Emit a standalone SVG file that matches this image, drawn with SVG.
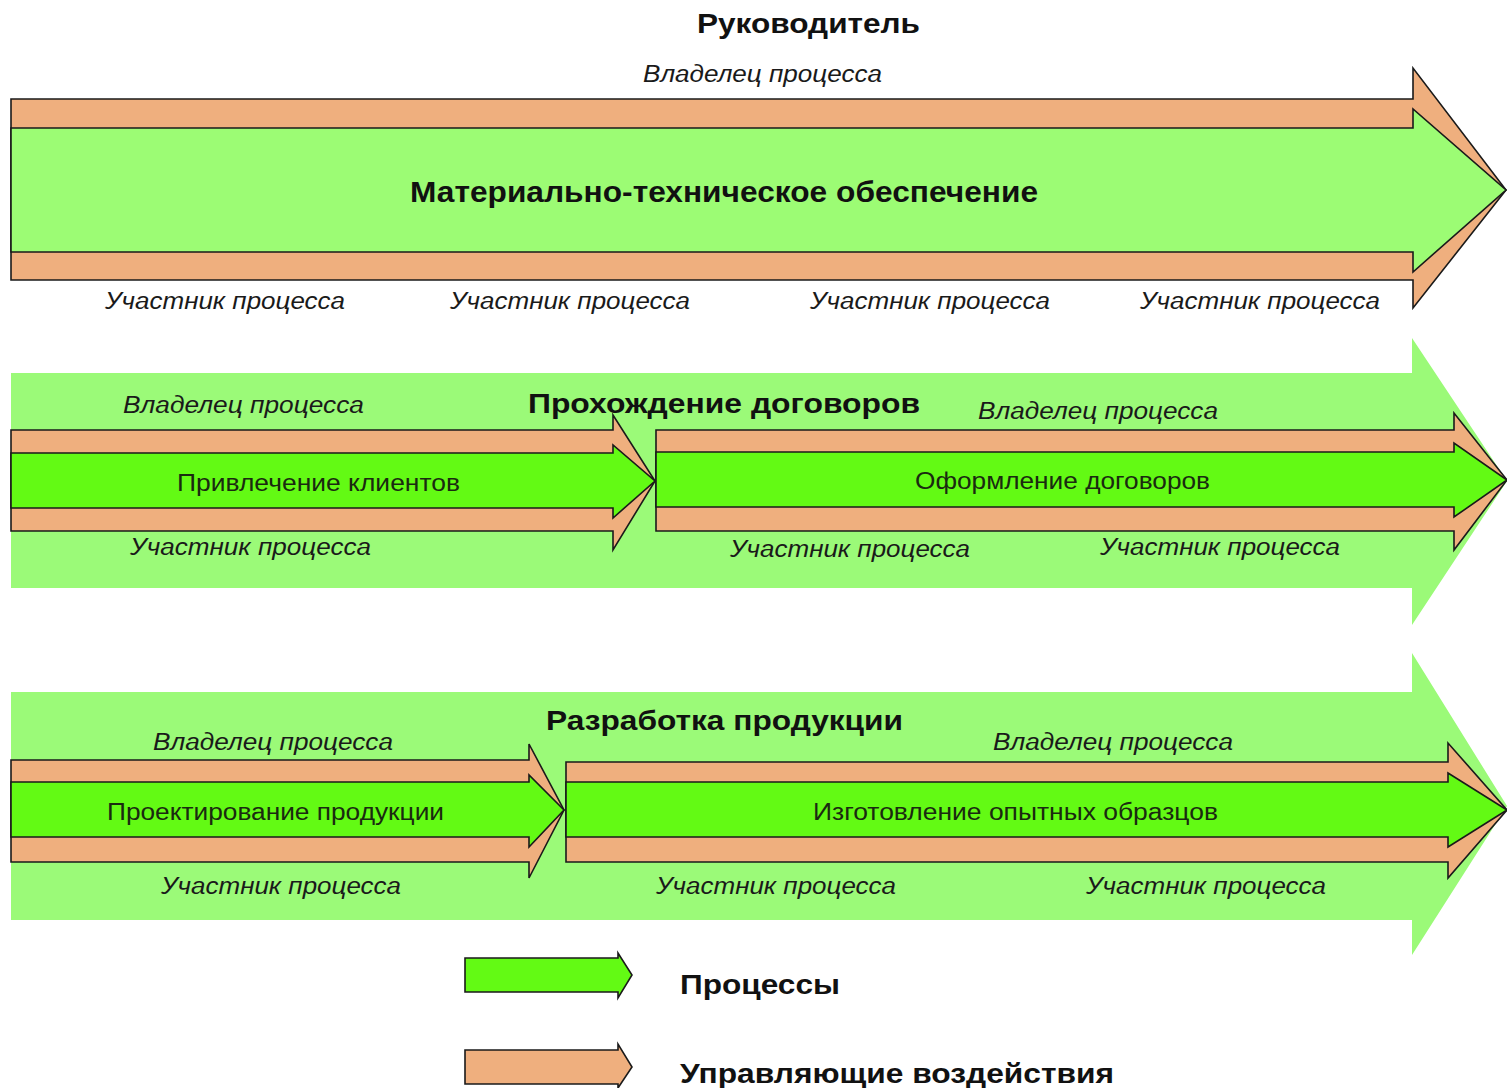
<svg xmlns="http://www.w3.org/2000/svg" width="1507" height="1088" viewBox="0 0 1507 1088">
<style>
.bg{fill:#9BFA78;stroke:none}
.ctl{fill:#EFAF7E;stroke:#1a1a1a;stroke-width:1.6;stroke-linejoin:miter}
.proc{fill:#9CFC74;stroke:#1a1a1a;stroke-width:1.6}
.proc2{fill:#63FA14;stroke:#1a1a1a;stroke-width:1.6}
text{font-family:"Liberation Sans",Arial,sans-serif;fill:#111}
.title{font-size:28px;font-weight:bold}
.big{font-size:30px;font-weight:bold}
.it{font-size:23px;font-style:italic;fill:#1a1a1a}
.lbl{font-size:23px;fill:#1a2a10}
.leg{font-size:28px;font-weight:bold}
</style>
<rect width="1507" height="1088" fill="#ffffff"/>

<g id="supply">
  <path class="ctl" d="M11,99 H1413 V68 L1506,190 L1413,308 V280 H11 Z"/>
  <path class="proc" d="M11,128 H1413 V109 L1506,190 L1413,272 V252 H11 Z"/>
  <text class="title" x="697" y="33" textLength="223" lengthAdjust="spacingAndGlyphs">Руководитель</text>
  <text class="it" x="643" y="82" textLength="239" lengthAdjust="spacingAndGlyphs">Владелец процесса</text>
  <text class="big" x="410" y="202" textLength="628" lengthAdjust="spacingAndGlyphs">Материально-техническое обеспечение</text>
  <text class="it" x="105" y="309" textLength="240" lengthAdjust="spacingAndGlyphs">Участник процесса</text>
  <text class="it" x="450" y="309" textLength="240" lengthAdjust="spacingAndGlyphs">Участник процесса</text>
  <text class="it" x="810" y="309" textLength="240" lengthAdjust="spacingAndGlyphs">Участник процесса</text>
  <text class="it" x="1140" y="309" textLength="240" lengthAdjust="spacingAndGlyphs">Участник процесса</text>
</g>

<g id="contracts">
  <path class="bg" d="M11,373 H1412 V338 L1507,481 L1412,625 V588 H11 Z"/>
  <text class="title" x="528" y="413" textLength="392" lengthAdjust="spacingAndGlyphs">Прохождение договоров</text>
</g>

<g id="clients">
  <path class="ctl" d="M11,430 H613 V415 L655,481 L613,550 V531 H11 Z"/>
  <path class="proc2" d="M11,453 H613 V445 L655,481 L613,518 V508 H11 Z"/>
  <text class="it" x="123" y="413" textLength="241" lengthAdjust="spacingAndGlyphs">Владелец процесса</text>
  <text class="lbl" x="177" y="491" textLength="283" lengthAdjust="spacingAndGlyphs">Привлечение клиентов</text>
  <text class="it" x="130" y="555" textLength="241" lengthAdjust="spacingAndGlyphs">Участник процесса</text>
</g>

<g id="registration">
  <path class="ctl" d="M656,430 H1454 V413 L1507,480 L1454,550 V531 H656 Z"/>
  <path class="proc2" d="M656,452 H1454 V443 L1507,480 L1454,517 V507 H656 Z"/>
  <text class="it" x="978" y="419" textLength="240" lengthAdjust="spacingAndGlyphs">Владелец процесса</text>
  <text class="lbl" x="915" y="489" textLength="295" lengthAdjust="spacingAndGlyphs">Оформление договоров</text>
  <text class="it" x="730" y="557" textLength="240" lengthAdjust="spacingAndGlyphs">Участник процесса</text>
  <text class="it" x="1100" y="555" textLength="240" lengthAdjust="spacingAndGlyphs">Участник процесса</text>
</g>

<g id="development">
  <path class="bg" d="M11,692 H1412 V653 L1507,806 L1412,955 V920 H11 Z"/>
  <text class="title" x="546" y="730" textLength="357" lengthAdjust="spacingAndGlyphs">Разработка продукции</text>
</g>

<g id="design">
  <path class="ctl" d="M11,760 H529 V744 L564,810 L529,878 V862 H11 Z"/>
  <path class="proc2" d="M11,782 H529 V775 L564,810 L529,847 V837 H11 Z"/>
  <text class="it" x="153" y="750" textLength="240" lengthAdjust="spacingAndGlyphs">Владелец процесса</text>
  <text class="lbl" x="107" y="820" textLength="337" lengthAdjust="spacingAndGlyphs">Проектирование продукции</text>
  <text class="it" x="161" y="894" textLength="240" lengthAdjust="spacingAndGlyphs">Участник процесса</text>
</g>

<g id="prototypes">
  <path class="ctl" d="M566,762 H1448 V743 L1507,810 L1448,878 V862 H566 Z"/>
  <path class="proc2" d="M566,782 H1448 V773 L1507,810 L1448,847 V837 H566 Z"/>
  <text class="it" x="993" y="750" textLength="240" lengthAdjust="spacingAndGlyphs">Владелец процесса</text>
  <text class="lbl" x="813" y="820" textLength="405" lengthAdjust="spacingAndGlyphs">Изготовление опытных образцов</text>
  <text class="it" x="656" y="894" textLength="240" lengthAdjust="spacingAndGlyphs">Участник процесса</text>
  <text class="it" x="1086" y="894" textLength="240" lengthAdjust="spacingAndGlyphs">Участник процесса</text>
</g>

<g id="legend-processes">
  <path class="proc2" d="M465,958 H618 V953 L632,975 L618,998 V992 H465 Z"/>
  <text class="leg" x="680" y="994" textLength="160" lengthAdjust="spacingAndGlyphs">Процессы</text>
</g>

<g id="legend-control">
  <path class="ctl" d="M465,1050 H618 V1044 L632,1067 L618,1088 V1084 H465 Z"/>
  <text class="leg" x="680" y="1083" textLength="434" lengthAdjust="spacingAndGlyphs">Управляющие воздействия</text>
</g>

<g id="connectors"></g>
</svg>
